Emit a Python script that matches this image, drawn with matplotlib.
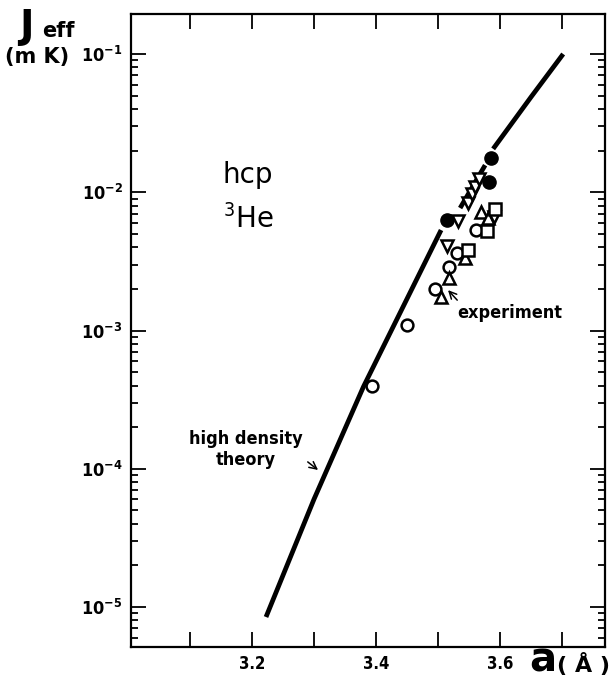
import numpy as np
import matplotlib
matplotlib.use('Agg')
import matplotlib.pyplot as plt
from matplotlib.ticker import LogLocator, NullFormatter

plt.rcParams['font.family'] = ['DejaVu Sans']
plt.rcParams['font.stretch'] = 'condensed'

theory_a = [[3.2226, 3.30, 3.38, 3.45, 3.5048],
            [3.5355, 3.5758],
            [3.5887, 3.65, 3.7016]]
theory_J = [[8.47e-6, 6.03e-5, 3.95e-4, 1.70e-3, 5.33e-3],
            [7.69e-3, 1.57e-2],
            [2.06e-2, 4.90e-2, 1.0e-1]]

# experiment
circ_a = [3.3931, 3.4495, 3.4952, 3.5177, 3.5306, 3.5613]
circ_J = [3.97e-4, 1.10e-3, 2.00e-3, 2.88e-3, 3.64e-3, 5.33e-3]
up_a = [3.5048, 3.5177, 3.5435, 3.5694, 3.5806]
up_J = [1.75e-3, 2.40e-3, 3.34e-3, 7.20e-3, 6.52e-3]
down_a = [3.5145, 3.5323, 3.5484, 3.5548, 3.5597, 3.566, 3.590]
down_J = [4.08e-3, 6.20e-3, 8.40e-3, 9.70e-3, 1.09e-2, 1.247e-2, 6.60e-3]
sq_a = [3.5484, 3.579, 3.5919]
sq_J = [3.82e-3, 5.25e-3, 7.57e-3]
fill_a = [3.514, 3.5827, 3.585]
fill_J = [6.30e-3, 1.19e-2, 1.76e-2]

xticks = [3.1, 3.2, 3.3, 3.4, 3.5, 3.6, 3.7]
xlabels = ['', '3.2', '', '3.4', '', '3.6', '']
yticks = [1e-5, 1e-4, 1e-3, 1e-2, 1e-1]
ylabels = ['10$^{\\mathbf{-5}}$', '10$^{\\mathbf{-4}}$', '10$^{\\mathbf{-3}}$',
           '10$^{\\mathbf{-2}}$', '10$^{\\mathbf{-1}}$']

fig = plt.figure(figsize=(6.09, 6.81), dpi=100)
ax = fig.add_axes([131/609, 34/681, 474/609, 633/681])
ax.set_yscale('log')

for a, J in zip(theory_a, theory_J):
    ax.plot(a, J, color='black', lw=3.4, solid_capstyle='butt', zorder=2)

mk = dict(linestyle='none', markersize=8.5, markeredgewidth=1.8,
          markeredgecolor='black', markerfacecolor='white', zorder=3)
ax.plot(circ_a, circ_J, marker='o', **mk)
ax.plot(up_a, up_J, marker='^', **mk)
ax.plot(down_a, down_J, marker='v', **mk)
ax.plot(sq_a, sq_J, marker='s', **mk)
ax.plot(fill_a, fill_J, marker='o', linestyle='none', markersize=9.5,
        color='black', zorder=4)

ax.set_xlim(3.005, 3.769)
ax.set_ylim(5.14e-6, 0.1947)

ax.set_xticks(xticks)
ax.set_xticklabels(xlabels, fontsize=12, fontweight='bold')
ax.set_yticks(yticks)
ax.set_yticklabels(ylabels, fontsize=13, fontweight='bold')
ax.yaxis.set_minor_locator(LogLocator(base=10, subs=np.arange(2, 10)))
ax.yaxis.set_minor_formatter(NullFormatter())
ax.tick_params(which='both', direction='in', top=True, right=True, width=1.3)
ax.tick_params(which='major', length=11, pad=6)
ax.tick_params(which='minor', length=5)
for s in ax.spines.values():
    s.set_linewidth(1.6)

# axis titles
fig.text(19/609, 1 - 38/681, 'J', fontsize=28, fontweight='heavy', stretch='normal')
fig.text(42/609, 1 - 37/681, 'eff', fontsize=15, fontweight='heavy', stretch='normal')
fig.text(5/609, 1 - 63/681, '(m K)', fontsize=15, fontweight='heavy', stretch='normal')
fig.text(529/609, 1 - 671/681, 'a', fontsize=29, fontweight='bold', stretch='normal')
fig.text(557/609, 1 - 672/681, '( Å )', fontsize=16, fontweight='bold', stretch='normal')

ax.text(3.1935, 1.17e-2, 'hcp', fontsize=20, ha='center', va='baseline', stretch='normal')
ax.text(3.1935, 5.5e-3, '$^3$He', fontsize=20, ha='center', va='baseline', stretch='normal')

ax.annotate('high density\ntheory', xy=(3.3065, 9.8e-5), xytext=(3.1903, 1.37e-4),
            fontsize=13, fontweight='bold', ha='center', va='center', linespacing=1.2,
            arrowprops=dict(arrowstyle='->', color='black', lw=1.1,
                            shrinkA=2, shrinkB=0, relpos=(1.0, 0.29)))
ax.annotate('experiment', xy=(3.516, 1.96e-3), xytext=(3.616, 1.34e-3),
            fontsize=13, fontweight='bold', ha='center', va='center',
            arrowprops=dict(arrowstyle='->', color='black', lw=1.1,
                            shrinkA=1, shrinkB=0, relpos=(0.03, 1.0)))

fig.savefig('out.png', dpi=100)
